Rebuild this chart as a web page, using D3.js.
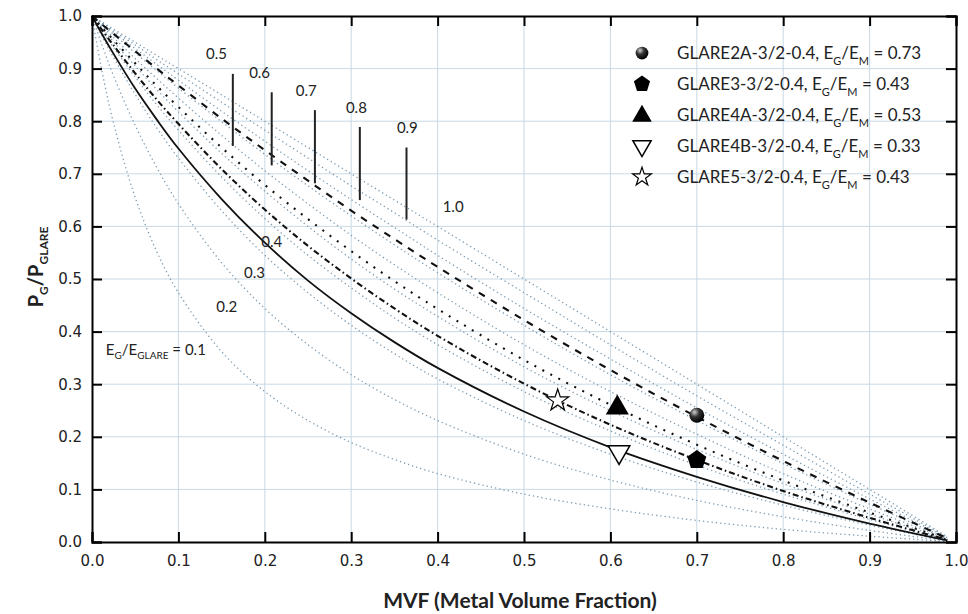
<!DOCTYPE html>
<html>
<head>
<meta charset="utf-8">
<script src="https://cdn.jsdelivr.net/npm/d3@7"></script>
<style>
  body { margin: 0; background: #fff; }
  svg { display: block; }
</style>
</head>
<body>
<div id="main"></div>
<script>

// metal volume fraction sample points
var mvf = [0, 0.01, 0.025, 0.05, 0.075, 0.1, 0.15, 0.2, 0.25, 0.3, 0.35, 0.4, 0.5, 0.6, 0.7, 0.8, 0.9, 0.99];

// reference family, E_G/E_GLARE = 0.1 ... 1.0 (dotted)
var refRatios = [0.1, 0.2, 0.3, 0.4, 0.5, 0.6, 0.7, 0.8, 0.9, 1.0];
var refCurves = [
  [1, 0.908, 0.796, 0.655, 0.552, 0.474, 0.362, 0.286, 0.231, 0.189, 0.157, 0.130, 0.091, 0.063, 0.041, 0.024, 0.011, 0.001],
  [1, 0.952, 0.886, 0.792, 0.712, 0.643, 0.531, 0.444, 0.375, 0.318, 0.271, 0.231, 0.167, 0.118, 0.079, 0.048, 0.022, 0.002],
  [1, 0.967, 0.921, 0.851, 0.787, 0.730, 0.630, 0.545, 0.474, 0.412, 0.358, 0.310, 0.231, 0.167, 0.114, 0.070, 0.032, 0.003],
  [1, 0.975, 0.940, 0.884, 0.831, 0.783, 0.694, 0.615, 0.545, 0.483, 0.426, 0.375, 0.286, 0.211, 0.146, 0.091, 0.043, 0.004],
  [1, 0.980, 0.951, 0.905, 0.860, 0.818, 0.739, 0.667, 0.600, 0.538, 0.481, 0.429, 0.333, 0.250, 0.176, 0.111, 0.053, 0.005],
  [1, 0.983, 0.959, 0.919, 0.881, 0.844, 0.773, 0.706, 0.643, 0.583, 0.527, 0.474, 0.375, 0.286, 0.205, 0.130, 0.063, 0.006],
  [1, 0.986, 0.965, 0.930, 0.896, 0.863, 0.799, 0.737, 0.677, 0.620, 0.565, 0.512, 0.412, 0.318, 0.231, 0.149, 0.072, 0.007],
  [1, 0.988, 0.969, 0.938, 0.908, 0.878, 0.819, 0.762, 0.706, 0.651, 0.598, 0.545, 0.444, 0.348, 0.255, 0.167, 0.082, 0.008],
  [1, 0.989, 0.972, 0.945, 0.917, 0.890, 0.836, 0.783, 0.730, 0.677, 0.626, 0.574, 0.474, 0.375, 0.278, 0.184, 0.091, 0.009],
  [1, 0.990, 0.975, 0.950, 0.925, 0.900, 0.850, 0.800, 0.750, 0.700, 0.650, 0.600, 0.500, 0.400, 0.300, 0.200, 0.100, 0.010]
];

// GLARE grades, E_G/E_M = 0.33, 0.43, 0.53, 0.73 (black)
var glareRatios = [0.33, 0.43, 0.53, 0.73];
var glareCurves = [
  [1, 0.970, 0.928, 0.862, 0.803, 0.748, 0.652, 0.569, 0.497, 0.435, 0.380, 0.331, 0.248, 0.180, 0.124, 0.076, 0.035, 0.003],
  [1, 0.977, 0.944, 0.891, 0.841, 0.795, 0.709, 0.632, 0.563, 0.501, 0.444, 0.392, 0.301, 0.223, 0.156, 0.097, 0.046, 0.004],
  [1, 0.981, 0.954, 0.910, 0.867, 0.827, 0.750, 0.679, 0.614, 0.553, 0.496, 0.443, 0.346, 0.261, 0.185, 0.117, 0.056, 0.005],
  [1, 0.986, 0.966, 0.933, 0.900, 0.868, 0.805, 0.745, 0.687, 0.630, 0.576, 0.523, 0.422, 0.327, 0.238, 0.154, 0.075, 0.007]
];

// specimens
var specimenNames = ["GLARE2A-3/2-0.4", "GLARE3-3/2-0.4", "GLARE4A-3/2-0.4", "GLARE4B-3/2-0.4", "GLARE5-3/2-0.4"];
var specimenRatio = ["0.73", "0.43", "0.53", "0.33", "0.43"];
var specimenMvf = [0.70, 0.70, 0.608, 0.610, 0.539];
var specimenLoad = [0.241, 0.156, 0.257, 0.171, 0.269];

// curve annotations (data coords)
var curveLabels = [
  { t: "0.5", x: 0.144, y: 0.928, lx: 0.163, y1: 0.890, y2: 0.753 },
  { t: "0.6", x: 0.194, y: 0.893, lx: 0.208, y1: 0.855, y2: 0.716 },
  { t: "0.7", x: 0.248, y: 0.857, lx: 0.258, y1: 0.821, y2: 0.682 },
  { t: "0.8", x: 0.306, y: 0.825, lx: 0.310, y1: 0.789, y2: 0.650 },
  { t: "0.9", x: 0.365, y: 0.787, lx: 0.364, y1: 0.750, y2: 0.613 },
  { t: "1.0", x: 0.418, y: 0.638 },
  { t: "0.4", x: 0.208, y: 0.570 },
  { t: "0.3", x: 0.188, y: 0.512 },
  { t: "0.2", x: 0.156, y: 0.448 }
];

var xTicks = [0, 0.1, 0.2, 0.3, 0.4, 0.5, 0.6, 0.7, 0.8, 0.9, 1.0];
var yTicks = [0, 0.1, 0.2, 0.3, 0.4, 0.5, 0.6, 0.7, 0.8, 0.9, 1.0];


var margin = { top: 16, right: 12, bottom: 72, left: 92 },
  width = 968 - margin.left - margin.right,
  height = 614 - margin.top - margin.bottom;

var svg = d3.select('#main')
  .append("svg")
  .attr('width', width + margin.left + margin.right)
  .attr('height', height + margin.top + margin.bottom)
  .append("g")
  .attr("transform", "translate(" + margin.left + "," + margin.top + ")");

var defs = svg.append("defs");
var grad = defs.append("radialGradient").attr("id", "sphere")
  .attr("cx", "35%").attr("cy", "30%").attr("r", "70%");
grad.append("stop").attr("offset", "0%").attr("stop-color", "#d0d0d0");
grad.append("stop").attr("offset", "45%").attr("stop-color", "#333");
grad.append("stop").attr("offset", "100%").attr("stop-color", "#000");

var xScale = d3.scaleLinear().domain([0, 1]).range([0, width]);
var yScale = d3.scaleLinear().domain([0, 1]).range([height, 0]);

// grid
svg.append("g")
  .attr("class", "grid")
  .selectAll("line.gx")
  .data(xTicks.slice(1, -1))
  .enter().append("line")
  .attr("x1", d => xScale(d)).attr("x2", d => xScale(d))
  .attr("y1", 0).attr("y2", height)
  .attr("stroke", "#c9d9e4").attr("stroke-width", 1);

svg.select(".grid")
  .selectAll("line.gy")
  .data(yTicks.slice(1, -1))
  .enter().append("line")
  .attr("y1", d => yScale(d)).attr("y2", d => yScale(d))
  .attr("x1", 0).attr("x2", width)
  .attr("stroke", "#c9d9e4").attr("stroke-width", 1);

var line = d3.line()
  .x((d, i) => xScale(mvf[i]))
  .y(d => yScale(d))
  .curve(d3.curveCatmullRom.alpha(0.5));

// dotted reference curves
svg.selectAll(".ref")
  .data(refCurves)
  .enter().append("path")
  .attr("class", "ref")
  .attr("d", line)
  .attr("fill", "none")
  .attr("stroke", "#7d9cb3")
  .attr("stroke-width", 1.3)
  .attr("stroke-dasharray", "1.3 3");

// black GLARE curves
var glareDash = ["none", "6 3 1.5 3", "2 7", "7 7"];
svg.selectAll(".glare")
  .data(glareCurves)
  .enter().append("path")
  .attr("class", "glare")
  .attr("d", line)
  .attr("fill", "none")
  .attr("stroke", "#111")
  .attr("stroke-width", (d, i) => i === 0 ? 1.8 : 2.1)
  .attr("stroke-dasharray", (d, i) => glareDash[i]);

// annotations
var ann = svg.append("g").style("font-family", "Lato, sans-serif").style("font-size", "15px").attr("fill", "#222");
curveLabels.forEach(function (c) {
  ann.append("text")
    .attr("x", xScale(c.x)).attr("y", yScale(c.y))
    .attr("dy", "0.35em")
    .attr("text-anchor", "middle")
    .text(c.t);
  if (c.lx !== undefined) {
    ann.append("line")
      .attr("x1", xScale(c.lx)).attr("x2", xScale(c.lx))
      .attr("y1", yScale(c.y1)).attr("y2", yScale(c.y2))
      .attr("stroke", "#222").attr("stroke-width", 2);
  }
});

var eLabel = ann.append("text")
  .attr("x", xScale(0.016)).attr("y", yScale(0.366))
  .attr("dy", "0.35em");
eLabel.append("tspan").text("E");
eLabel.append("tspan").attr("dy", 4).style("font-size", "10px").text("G");
eLabel.append("tspan").attr("dy", -4).text("/E");
eLabel.append("tspan").attr("dy", 4).style("font-size", "10px").text("GLARE");
eLabel.append("tspan").attr("dy", -4).text(" = 0.1");

// marker shapes
function pentagon(r) {
  var pts = d3.range(5).map(i => {
    var a = -Math.PI / 2 + i * 2 * Math.PI / 5;
    return [r * Math.cos(a), r * Math.sin(a)];
  });
  return "M" + pts.map(p => p.join(",")).join("L") + "Z";
}

function drawMarker(g, i, k) {
  if (i === 0) {
    g.append("circle").attr("r", 7.5 * k).attr("fill", "url(#sphere)");
  } else if (i === 1) {
    g.append("path").attr("d", pentagon(10 * k)).attr("fill", "#000");
  } else if (i === 2) {
    g.append("path").attr("d", d3.symbol().type(d3.symbolTriangle).size(230 * k * k)()).attr("fill", "#000")
      .attr("transform", "translate(0,1)");
  } else if (i === 3) {
    g.append("path").attr("d", d3.symbol().type(d3.symbolTriangle).size(200 * k * k)())
      .attr("transform", "rotate(180)")
      .attr("fill", "#fff").attr("stroke", "#000").attr("stroke-width", 1.5);
  } else {
    g.append("path").attr("d", d3.symbol().type(d3.symbolStar).size(150 * k * k)())
      .attr("fill", "#fff").attr("stroke", "#000").attr("stroke-width", 1.2);
  }
}

// specimen points
specimenMvf.forEach(function (m, i) {
  var g = svg.append("g")
    .attr("transform", "translate(" + xScale(m) + "," + yScale(specimenLoad[i]) + ")");
  drawMarker(g, i, 1);
});

// axes: ticks inward on all four sides
var axisFont = "'DejaVu Sans', Verdana, sans-serif";

var xAxis = svg.append("g")
  .attr("transform", "translate(0," + height + ")")
  .call(d3.axisBottom(xScale).tickValues(xTicks).tickSize(-10).tickPadding(13).tickFormat(d3.format(".1f")));
var yAxis = svg.append("g")
  .call(d3.axisLeft(yScale).tickValues(yTicks).tickSize(-10).tickPadding(10).tickFormat(d3.format(".1f")));
var xTop = svg.append("g")
  .call(d3.axisTop(xScale).tickValues(xTicks).tickSize(-10).tickFormat(""));
var yRight = svg.append("g")
  .attr("transform", "translate(" + width + ",0)")
  .call(d3.axisRight(yScale).tickValues(yTicks).tickSize(-10).tickFormat(""));

[xAxis, yAxis, xTop, yRight].forEach(function (a) {
  a.select(".domain").attr("stroke", "#000").attr("stroke-width", 2);
  a.selectAll(".tick line").attr("stroke", "#000").attr("stroke-width", 2);
  a.selectAll("text").style("font-family", axisFont).style("font-size", "15px").attr("fill", "#222");
});

// axis titles
svg.append("text")
  .attr("x", width / 2 - 4)
  .attr("y", height + 66)
  .attr("text-anchor", "middle")
  .style("font-family", "Lato, sans-serif")
  .style("font-weight", 700)
  .style("font-size", "21px")
  .attr("fill", "#222")
  .text("MVF (Metal Volume Fraction)");

var yTitle = svg.append("text")
  .attr("transform", "translate(" + (-49) + "," + (height / 2 - 12) + ")rotate(-90)")
  .attr("text-anchor", "middle")
  .style("font-family", "Lato, sans-serif")
  .style("font-weight", 700)
  .style("font-size", "20px")
  .attr("fill", "#222");
yTitle.append("tspan").text("P");
yTitle.append("tspan").attr("dy", 5).style("font-size", "12px").text("G");
yTitle.append("tspan").attr("dy", -5).text("/P");
yTitle.append("tspan").attr("dy", 5).style("font-size", "12px").text("GLARE");

// legend
var legend = svg.selectAll(".legend")
  .data(specimenNames)
  .enter().append("g")
  .attr("class", "legend")
  .attr("transform", (d, i) => "translate(" + (550) + "," + (37 + i * 31) + ")");

legend.each(function (d, i) { drawMarker(d3.select(this), i, 0.85); });

var lt = legend.append("text")
  .attr("x", 35)
  .attr("dy", "0.35em")
  .style("font-family", "Lato, sans-serif")
  .style("font-size", "17px")
  .attr("fill", "#222");
lt.append("tspan").text(d => d + ", E");
lt.append("tspan").attr("dy", 6).style("font-size", "11px").text("G");
lt.append("tspan").attr("dy", -6).text("/E");
lt.append("tspan").attr("dy", 6).style("font-size", "11px").text("M");
lt.append("tspan").attr("dy", -6).text((d, i) => " = " + specimenRatio[i]);

</script>
</body>
</html>
